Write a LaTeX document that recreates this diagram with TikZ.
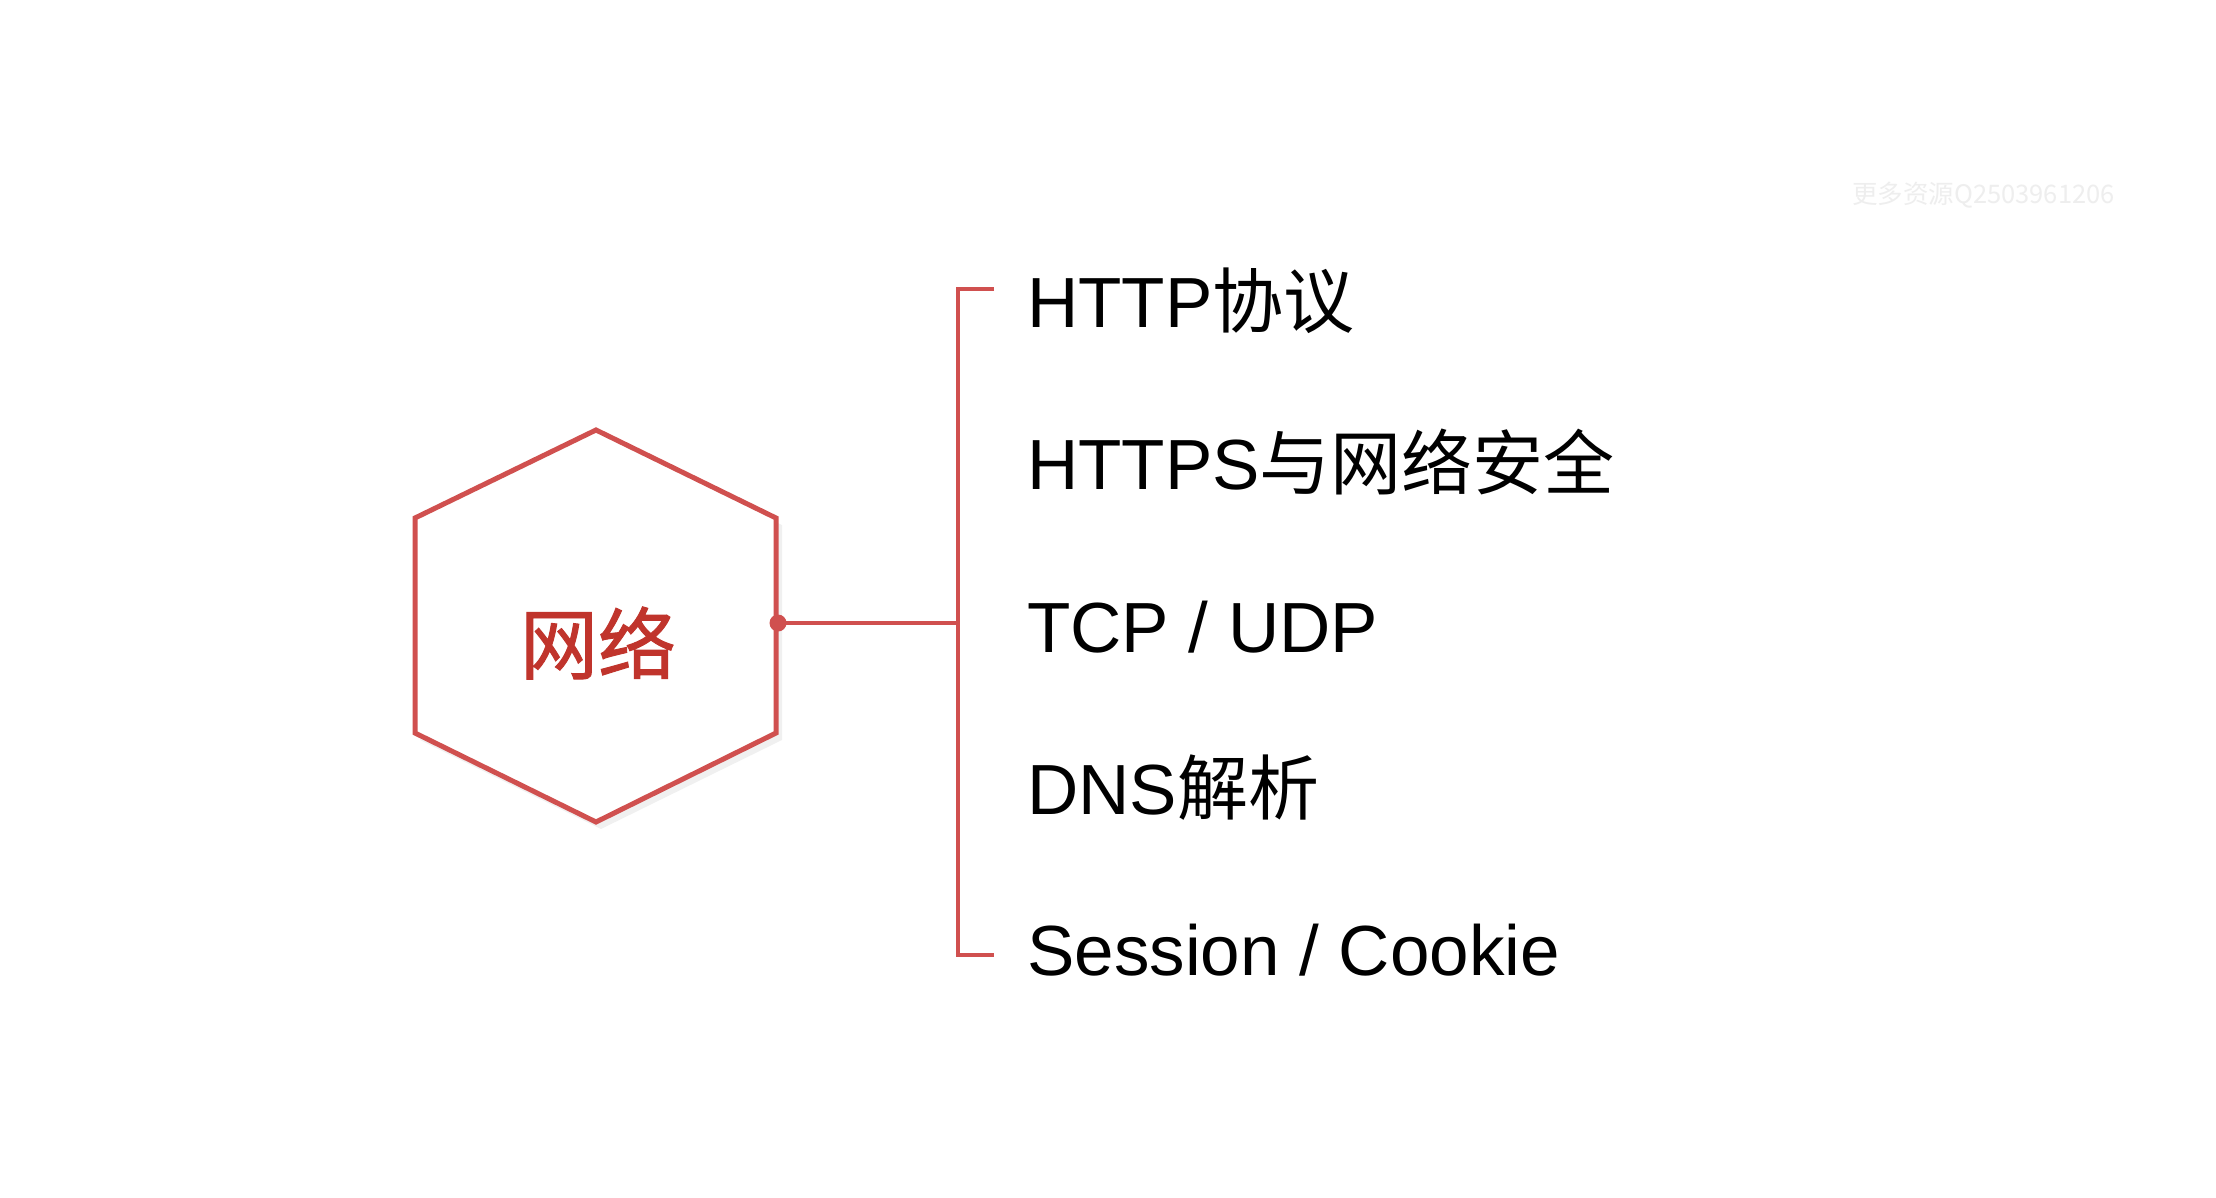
\documentclass[tikz,border=0pt]{standalone}
\usepackage{fontspec}
\setmainfont{Liberation Sans}
\newfontfamily\cjk{Noto Sans CJK SC}
\newfontfamily\cjkbold[FakeBold=1.2]{Noto Sans CJK SC}
\definecolor{hexred}{HTML}{D0504F}
\definecolor{txtred}{HTML}{C0342C}
\definecolor{wm}{HTML}{EEEEEE}
\begin{document}
\begin{tikzpicture}[x=1pt,y=-1pt,
  redline/.style={draw=hexred,line width=5pt,line join=miter},
  item/.style={anchor=base west,inner sep=0pt,font=\fontsize{71}{85}\selectfont,text=black}]
\useasboundingbox[fill=white] (0,0) rectangle (2216,1198);
% shadow
\fill[black,opacity=0.06] (601,436) -- (782,525) -- (782,740) -- (601,829) -- (420,740) -- (420,525) -- cycle;
% hexagon
\coordinate (h1) at (596,430);
\coordinate (h2) at (776,518);
\coordinate (h3) at (776,733);
\coordinate (h4) at (596,822);
\coordinate (h5) at (415,733);
\coordinate (h6) at (415,518);
\filldraw[redline,fill=white] (h1) -- (h2) -- (h3) -- (h4) -- (h5) -- (h6) -- cycle;
\node[text=txtred,font=\cjkbold\fontsize{78}{90}\selectfont,inner sep=0pt] (hex) at (598,643) {网络};
% connector
\coordinate (dot) at (778,623);
\coordinate (jn) at (958,623);
\coordinate (btop) at (958,289);
\coordinate (bbot) at (958,955);
\coordinate (etop) at (994,289);
\coordinate (ebot) at (994,955);
\fill[hexred] (dot) circle (8.5);
\draw[redline,line width=4.5pt] (dot) -- (jn);
\draw[redline,line width=4.5pt] (etop) -- (btop) -- (bbot) -- (ebot);
% items
\node[item] (t1) at (1027,327) {HTTP{\cjk 协议}};
\node[item] (t2) at (1027,489) {HTTPS{\cjk 与网络安全}};
\node[item] (t3) at (1027,652) {TCP / UDP};
\node[item] (t4) at (1027,814) {DNS{\cjk 解析}};
\node[item] (t5) at (1027,975) {Session / Cookie};
% watermark
\node[anchor=west,inner sep=0pt,text=wm,font=\cjk\fontsize{25.5}{30}\selectfont] (wmk) at (1852,195) {更多资源Q2503961206};
\end{tikzpicture}
\end{document}
